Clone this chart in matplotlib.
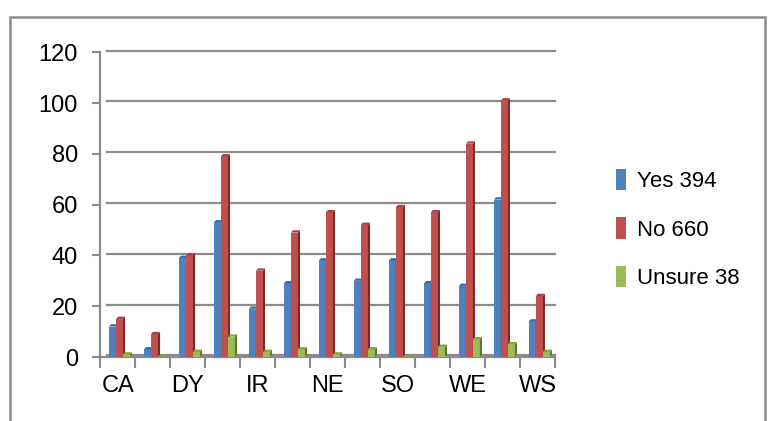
import matplotlib.pyplot as plt
import numpy as np
from matplotlib.patches import Polygon, Rectangle

# 13 regions, only every other one is labelled on the original axis
categories = ["CA", "", "DY", "", "IR", "", "NE", "", "SO", "", "WE", "", "WS"]
yes = [12, 3, 39, 53, 19, 29, 38, 30, 38, 29, 28, 62, 14]
no = [15, 9, 40, 79, 34, 49, 57, 52, 59, 57, 84, 101, 24]
unsure = [1, 0, 2, 8, 2, 3, 1, 3, 0, 4, 7, 5, 2]
series_labels = ["Yes 394", "No 660", "Unsure 38"]
yticks = [0, 20, 40, 60, 80, 100, 120]

plt.rcParams["font.family"] = ["Liberation Sans", "DejaVu Sans"]

front = ["#4f81bd", "#c0504d", "#9bbb59"]
side = ["#2c4d75", "#772c2a", "#5f7530"]
top = ["#3b6aa3", "#a84340", "#84a245"]

fig = plt.figure(figsize=(7.71, 4.21), dpi=100)
ax = fig.add_axes([0.13, 0.152, 0.59, 0.724])

x = np.arange(len(categories))
width = 0.2
dx, dy = 0.06, 0.9  # fake 3D depth (data units)

for i, vals in enumerate([yes, no, unsure]):
    xs = x - 0.3 + 0.05 + i * width
    ax.bar(xs, vals, width=width, align="edge", color=front[i], zorder=3,
           label=series_labels[i], linewidth=0)
    for x0, v in zip(xs, vals):
        ax.add_patch(Polygon([(x0 + width, 0), (x0 + width + dx, dy),
                              (x0 + width + dx, v + dy), (x0 + width, v)],
                             closed=True, color=side[i], zorder=3, linewidth=0))
        ax.add_patch(Polygon([(x0, v), (x0 + dx, v + dy),
                              (x0 + width + dx, v + dy), (x0 + width, v)],
                             closed=True, color=top[i], zorder=3, linewidth=0))

ax.set_xlim(-0.5, len(categories) - 0.5)
ax.set_ylim(0, 120)
ax.set_yticks(yticks)
ax.set_yticklabels([str(t) for t in yticks], fontsize=17)
for t in yticks:
    ax.plot([-0.3, len(categories) - 0.5], [t + 0.6, t + 0.6], color="#8c8c8c",
            lw=1.6, zorder=1, clip_on=False)

ax.set_xticks(np.arange(len(categories) + 1) - 0.5, minor=True)
ax.set_xticks(x[::2])
ax.set_xticklabels(categories[::2], fontsize=17)
ax.tick_params(axis="x", which="major", length=0, pad=13)
ax.tick_params(axis="x", which="minor", length=8, width=1.5, color="#8c8c8c")
ax.tick_params(axis="y", length=6, width=1.5, color="#8c8c8c", pad=10)

for s in ["top", "right"]:
    ax.spines[s].set_visible(False)
for s in ["left", "bottom"]:
    ax.spines[s].set_color("#8c8c8c")
    ax.spines[s].set_linewidth(1.6)

ax.legend(loc="center left", bbox_to_anchor=(1.09, 0.42), frameon=False,
          fontsize=16, handlelength=0.45, handleheight=1.1, handletextpad=0.5,
          labelspacing=1.15)

fig.patches.append(Rectangle((10 / 771, -0.05), 755 / 771, 1.0 - 17 / 421 + 0.05,
                             transform=fig.transFigure, fill=False,
                             edgecolor="#8c8c8c", linewidth=1.8))

fig.savefig("out.png", dpi=100)
